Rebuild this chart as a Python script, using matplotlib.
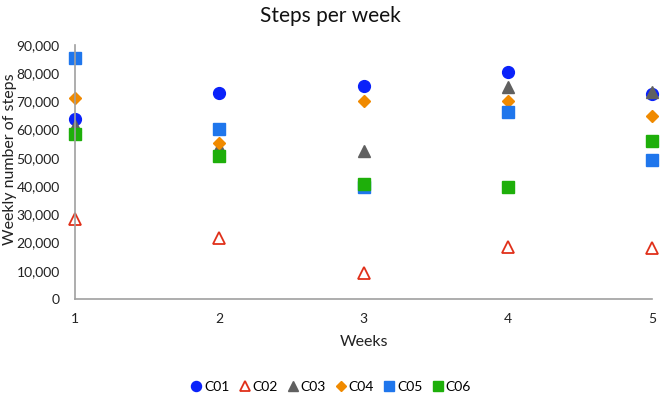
import matplotlib.pyplot as plt
from matplotlib.ticker import FuncFormatter

plt.rcParams['font.family'] = ['Lato', 'DejaVu Sans']

# Weekly step counts per participant
weeks = [1, 2, 3, 4, 5]
c01 = [63700, 73000, 75500, 80300, 72500]
c02 = [28500, 21700, 9400, 18500, 18000]
c03 = [61200, 53700, 52400, 75200, 73400]
c04 = [71200, 55200, 70200, 70000, 65000]
c05 = [85400, 60100, 39700, 66300, 49400]
c06 = [58400, 50500, 40800, 39700, 56000]

fig = plt.figure(figsize=(6.6, 3.94), dpi=100)
ax = fig.add_axes([0.1136, 0.241, 0.8744, 0.645])

ax.plot(weeks, c01, 'o', ms=8.5, color='#0A22FA', label='C01', clip_on=False)
ax.plot(weeks, c02, '^', ms=8, mfc='white', mec='#E0301A', mew=1.3, color='#E0301A', label='C02', clip_on=False)
ax.plot(weeks, c03, '^', ms=8.5, color='#606060', label='C03', clip_on=False)
ax.plot(weeks, c04, 'D', ms=6.5, color='#F08A00', label='C04', clip_on=False)
ax.plot(weeks, c05, 's', ms=8, color='#1F76EC', label='C05', clip_on=False)
ax.plot(weeks, c06, 's', ms=8, color='#1EAF0A', label='C06', clip_on=False)

ax.set_xlim(1, 5)
ax.set_ylim(0, 90000)
ax.set_xticks(weeks)
ax.set_yticks(range(0, 90001, 10000))
ax.yaxis.set_major_formatter(FuncFormatter(lambda v, p: f'{int(v):,}'))
ax.tick_params(length=0, labelsize=10, colors='#222222')
ax.tick_params(axis='x', pad=10)
ax.tick_params(axis='y', pad=11)

for s in ['top', 'right']:
    ax.spines[s].set_visible(False)
for s in ['left', 'bottom']:
    ax.spines[s].set_color('#A0A0A0')
    ax.spines[s].set_linewidth(1.2)

ax.set_xlabel('Weeks', fontsize=11.5, color='#222222')
ax.xaxis.set_label_coords(0.5, -0.14)
ax.set_ylabel('Weekly number of steps', fontsize=11.5, color='#222222')
ax.yaxis.set_label_coords(-0.1, 0.55)
fig.suptitle('Steps per week', fontsize=15, y=0.985, color='#111111')

fig.legend(loc='lower center', bbox_to_anchor=(0.5, -0.03), ncol=6, frameon=False,
           fontsize=10, handletextpad=0.05, columnspacing=0.6, handlelength=1.0, markerscale=0.85)

fig.savefig('out.png', dpi=100)
